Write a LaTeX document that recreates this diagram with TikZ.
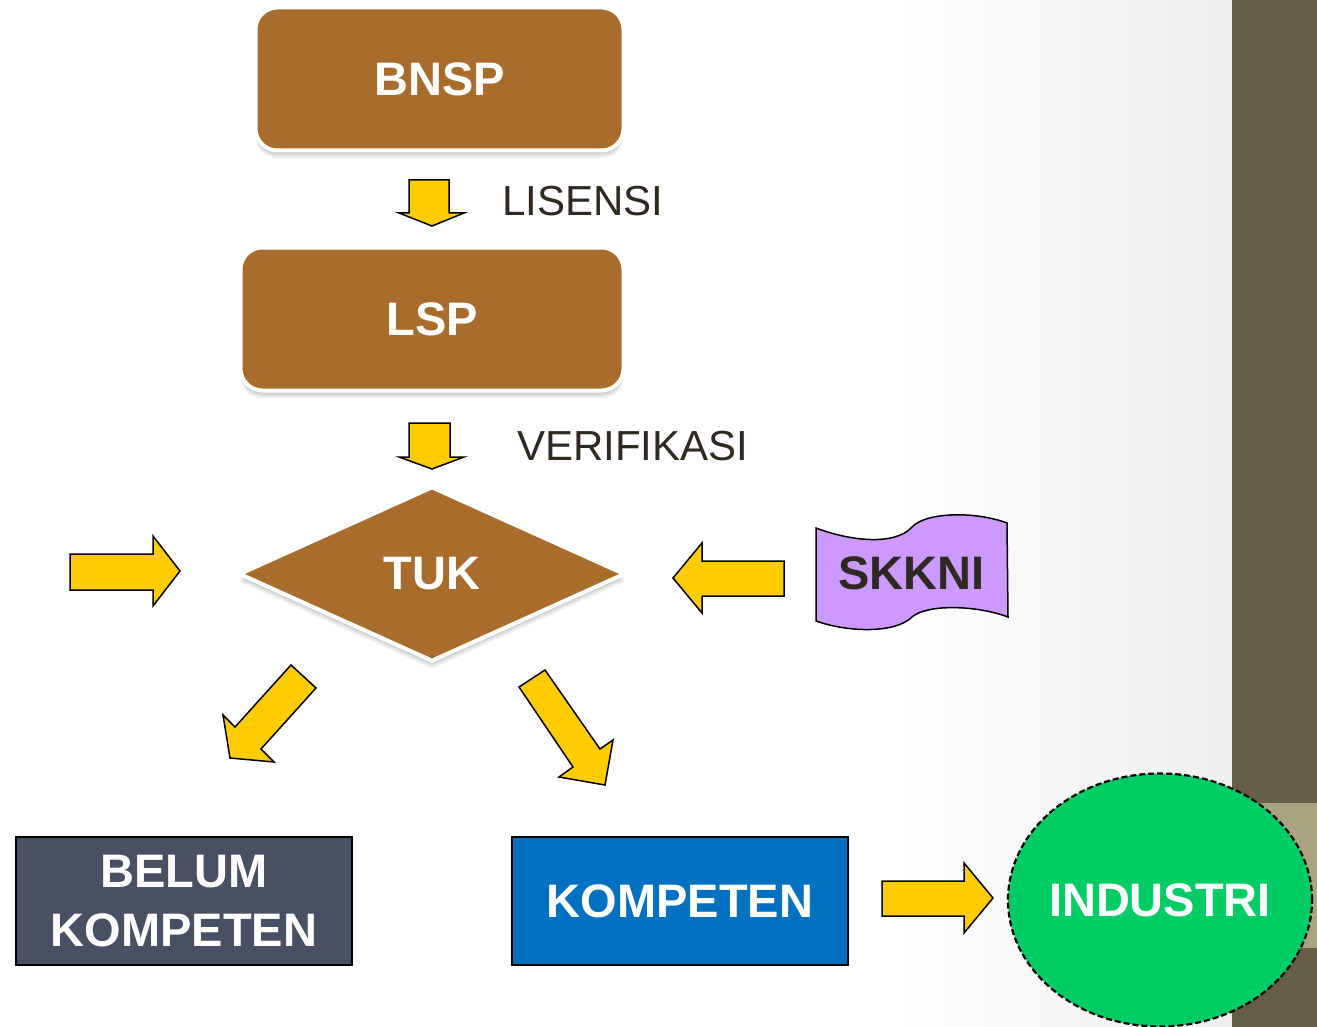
\documentclass[tikz,border=0pt]{standalone}
\usepackage{fontspec}
\setmainfont{Liberation Sans}
\usetikzlibrary{shapes.geometric,shadows}
\definecolor{brownbox}{HTML}{A86C2D}
\definecolor{yel}{HTML}{FFCC00}
\definecolor{slate}{HTML}{4A5063}
\definecolor{bluebox}{HTML}{0070C0}
\definecolor{greenbox}{HTML}{00CC66}
\definecolor{purp}{HTML}{CC99FF}
\definecolor{darktext}{HTML}{2E2A21}
\definecolor{barcol}{HTML}{665E48}
\definecolor{bandcol}{HTML}{A9A47F}
\tikzset{
  bigtext/.style={font=\fontsize{47}{59}\selectfont\bfseries},
  labeltext/.style={font=\fontsize{42}{50}\selectfont, text=darktext},
  softshadow/.style={
    general shadow={fill=black,opacity=0.07,shadow yshift=-2pt},
    general shadow={fill=black,opacity=0.07,shadow yshift=-4pt},
    general shadow={fill=black,opacity=0.06,shadow yshift=-6pt},
    general shadow={fill=black,opacity=0.05,shadow yshift=-8pt}},
  roundbox/.style={rectangle, rounded corners=22pt, fill=brownbox, draw=white,
    line width=4pt, text=white, bigtext, softshadow, inner sep=0pt},
  flatbox/.style={rectangle, draw=black, line width=1.5pt, text=white, bigtext,
    inner sep=0pt, minimum width=336pt, minimum height=128pt, align=center},
  yarrow/.style={fill=yel, draw=black, line width=1.5pt, line join=miter},
}
\begin{document}
\begin{tikzpicture}[x=1pt,y=-1pt]
\useasboundingbox (0,0) rectangle (1317,1027);
\fill[white] (0,0) rectangle (1317,1027);
\shade[left color=white, right color=black!7] (900,0) rectangle (1232,1027);
% right bar
\fill[barcol] (1232,0) rectangle (1317,1027);
\fill[bandcol] (1232,803) rectangle (1317,948);

% main nodes
\node[roundbox, minimum width=368pt, minimum height=143pt] (bnsp) at (439.5,79) {BNSP};
\node[roundbox, minimum width=383pt, minimum height=143pt] (lsp) at (432,319) {LSP};
\node[diamond, minimum width=386pt, minimum height=175pt, inner sep=0pt,
      fill=brownbox, draw=white, line width=4pt, text=white, bigtext, softshadow]
      (tuk) at (432,574) {TUK};

% labels
\node[labeltext, anchor=base west, inner sep=0pt] (lis) at (502,215) {LISENSI};
\node[labeltext, anchor=base west, inner sep=0pt] (ver) at (517,460) {VERIFIKASI};

% down arrows
\draw[yarrow] (409,180) -- (449,180) -- (449,213) -- (464,213) -- (432,226)
  -- (399,213) -- (409,213) -- cycle;
\draw[yarrow] (409,423) -- (450,423) -- (450,457) -- (464,457) -- (432,469)
  -- (399,457) -- (409,457) -- cycle;

% left incoming arrow
\draw[yarrow] (70,554) -- (153,554) -- (153,536) -- (180,571) -- (153,606)
  -- (153,590) -- (70,590) -- cycle;

% SKKNI flag
\draw[fill=purp, line width=1.5pt]
  (816,528) .. controls (850,541) and (895,546) .. (912,527)
  .. controls (926,512) and (975,511) .. (1007,523)
  -- (1008,617)
  .. controls (976,605) and (927,604) .. (912,617)
  .. controls (896,633) and (850,633) .. (816,621) -- cycle;
\node[bigtext, text=darktext, inner sep=0pt] (skkni) at (911.5,573) {SKKNI};

% arrow from SKKNI
\draw[yarrow] (784,561) -- (702,561) -- (702,543) -- (673,578) -- (702,613)
  -- (702,596) -- (784,596) -- cycle;

% diagonal arrows
\draw[yarrow] (291,665) -- (316,688) -- (261,749) -- (274,762) -- (230,758)
  -- (223,715) -- (235,727) -- cycle;
\draw[yarrow] (519,687) -- (545,670) -- (600,749) -- (613,740) -- (605,785)
  -- (559,777) -- (573,767) -- cycle;

% bottom boxes
\node[flatbox, fill=slate] (belum) at (184,901) {BELUM\\KOMPETEN};
\node[flatbox, fill=bluebox] (komp) at (680,901) {KOMPETEN};

% arrow to industri
\draw[yarrow] (882,881) -- (964,881) -- (964,863) -- (993,898) -- (964,933)
  -- (964,916) -- (882,916) -- cycle;

\node[ellipse, draw=black, dash pattern=on 6pt off 3pt, line width=2.2pt,
      fill=greenbox, minimum width=304pt, minimum height=253pt, inner sep=0pt,
      label={[bigtext, text=white, inner sep=0pt]center:INDUSTRI}]
      (ind) at (1160,900) {};
\end{tikzpicture}
\end{document}
